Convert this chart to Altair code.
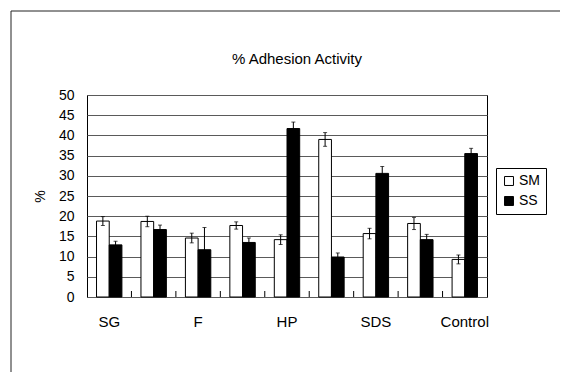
import altair as alt
import pandas as pd

groups = ["SG", "SG-b", "F", "F-b", "HP", "HP-b", "SDS", "SDS-b", "Control"]
series = ["SM", "SS"]
sm_values = [18.8, 18.7, 14.6, 17.7, 14.2, 39.0, 15.7, 18.2, 9.3]
sm_err = [1.1, 1.3, 1.2, 0.9, 1.2, 1.7, 1.3, 1.5, 1.1]
ss_values = [12.9, 16.7, 11.7, 13.5, 41.7, 9.9, 30.6, 14.2, 35.5]
ss_err = [0.9, 1.1, 5.5, 1.1, 1.6, 1.0, 1.7, 1.3, 1.3]
y_ticks = [0, 5, 10, 15, 20, 25, 30, 35, 40, 45, 50]
title_text = "% Adhesion Activity"

rows = []
for i, g in enumerate(groups):
    rows.append({"group": g, "series": "SM", "value": sm_values[i],
                 "lo": sm_values[i] - sm_err[i], "hi": sm_values[i] + sm_err[i]})
    rows.append({"group": g, "series": "SS", "value": ss_values[i],
                 "lo": ss_values[i] - ss_err[i], "hi": ss_values[i] + ss_err[i]})
df = pd.DataFrame(rows)
bounds = pd.DataFrame({"group": groups[1:]})

FONT = "Liberation Sans"

xaxis = alt.Axis(title=None, labelAngle=0, domain=False, ticks=False,
                 labelPadding=17, labelFontSize=15, labelColor="black",
                 labelFont=FONT,
                 labelExpr="indexof(datum.value, '-b') >= 0 ? '' : datum.value")
xscale = alt.Scale(paddingInner=0, paddingOuter=0)
xenc = alt.X("group:N", sort=groups, scale=xscale, axis=xaxis)
xoff = alt.XOffset("series:N", sort=series,
                   scale=alt.Scale(paddingInner=0, paddingOuter=0.75))
yscale = alt.Scale(domain=[0, 50], nice=False)
yaxis = alt.Axis(values=y_ticks, title="%", domain=False, ticks=False,
                 grid=True, gridColor="#5a5a5a", gridWidth=1,
                 labelOverlap=False,
                 labelFontSize=14, labelColor="black", labelFont=FONT,
                 labelPadding=13, titleFontSize=14, titleFontWeight="normal",
                 titleFont=FONT, titleColor="black", titlePadding=11)

base = alt.Chart(df).encode(x=xenc, xOffset=xoff)

bars = base.mark_bar(stroke="black", strokeWidth=1).encode(
    y=alt.Y("value:Q", scale=yscale, axis=yaxis),
    fill=alt.Color("series:N",
                   scale=alt.Scale(domain=series, range=["white", "black"]),
                   legend=alt.Legend(title=None, orient="none", legendX=409, legendY=73,
                                     symbolType="square", symbolSize=80,
                                     symbolStrokeColor="black", symbolStrokeWidth=1,
                                     labelFontSize=14, labelFont=FONT, labelColor="black",
                                     strokeColor="black", padding=6, rowPadding=6,
                                     labelOffset=3)),
)

err = base.mark_rule(color="black", strokeWidth=1).encode(
    y=alt.Y("lo:Q", scale=yscale, axis=yaxis), y2="hi:Q")
cap_hi = base.mark_tick(color="black", orient="horizontal", size=4, thickness=1).encode(
    y=alt.Y("hi:Q", scale=yscale, axis=yaxis))
cap_lo = base.mark_tick(color="black", orient="horizontal", size=4, thickness=1).encode(
    y=alt.Y("lo:Q", scale=yscale, axis=yaxis))

bticks = alt.Chart(bounds).mark_rule(color="black", strokeWidth=1).encode(
    x=alt.X("group:N", sort=groups, bandPosition=0, scale=xscale, axis=xaxis),
    y=alt.value(202), y2=alt.value(196))

one = alt.Data(values=[{}])
frame_top = alt.Chart(one).mark_rule(color="#222", strokeWidth=1, clip=False).encode(
    x=alt.value(-76), x2=alt.value(500), y=alt.value(-84))
frame_left = alt.Chart(one).mark_rule(color="#222", strokeWidth=1, clip=False).encode(
    x=alt.value(-76), y=alt.value(-84), y2=alt.value(290))

title = alt.Chart(one).mark_text(text=title_text, font=FONT, fontSize=15, color="black",
                                 align="center", baseline="alphabetic").encode(
    x=alt.value(210), y=alt.value(-31))

chart = alt.layer(frame_top, frame_left, bars, err, cap_hi, cap_lo, bticks, title).properties(
    width=400, height=202,
    autosize=alt.AutoSizeParams(type="none"),
    padding={"left": 79, "top": 87, "right": 73, "bottom": 75},
    background="white",
).configure_view(stroke="black", strokeWidth=1)

chart.save("out.html", embed_options={"renderer": "svg", "actions": False})
